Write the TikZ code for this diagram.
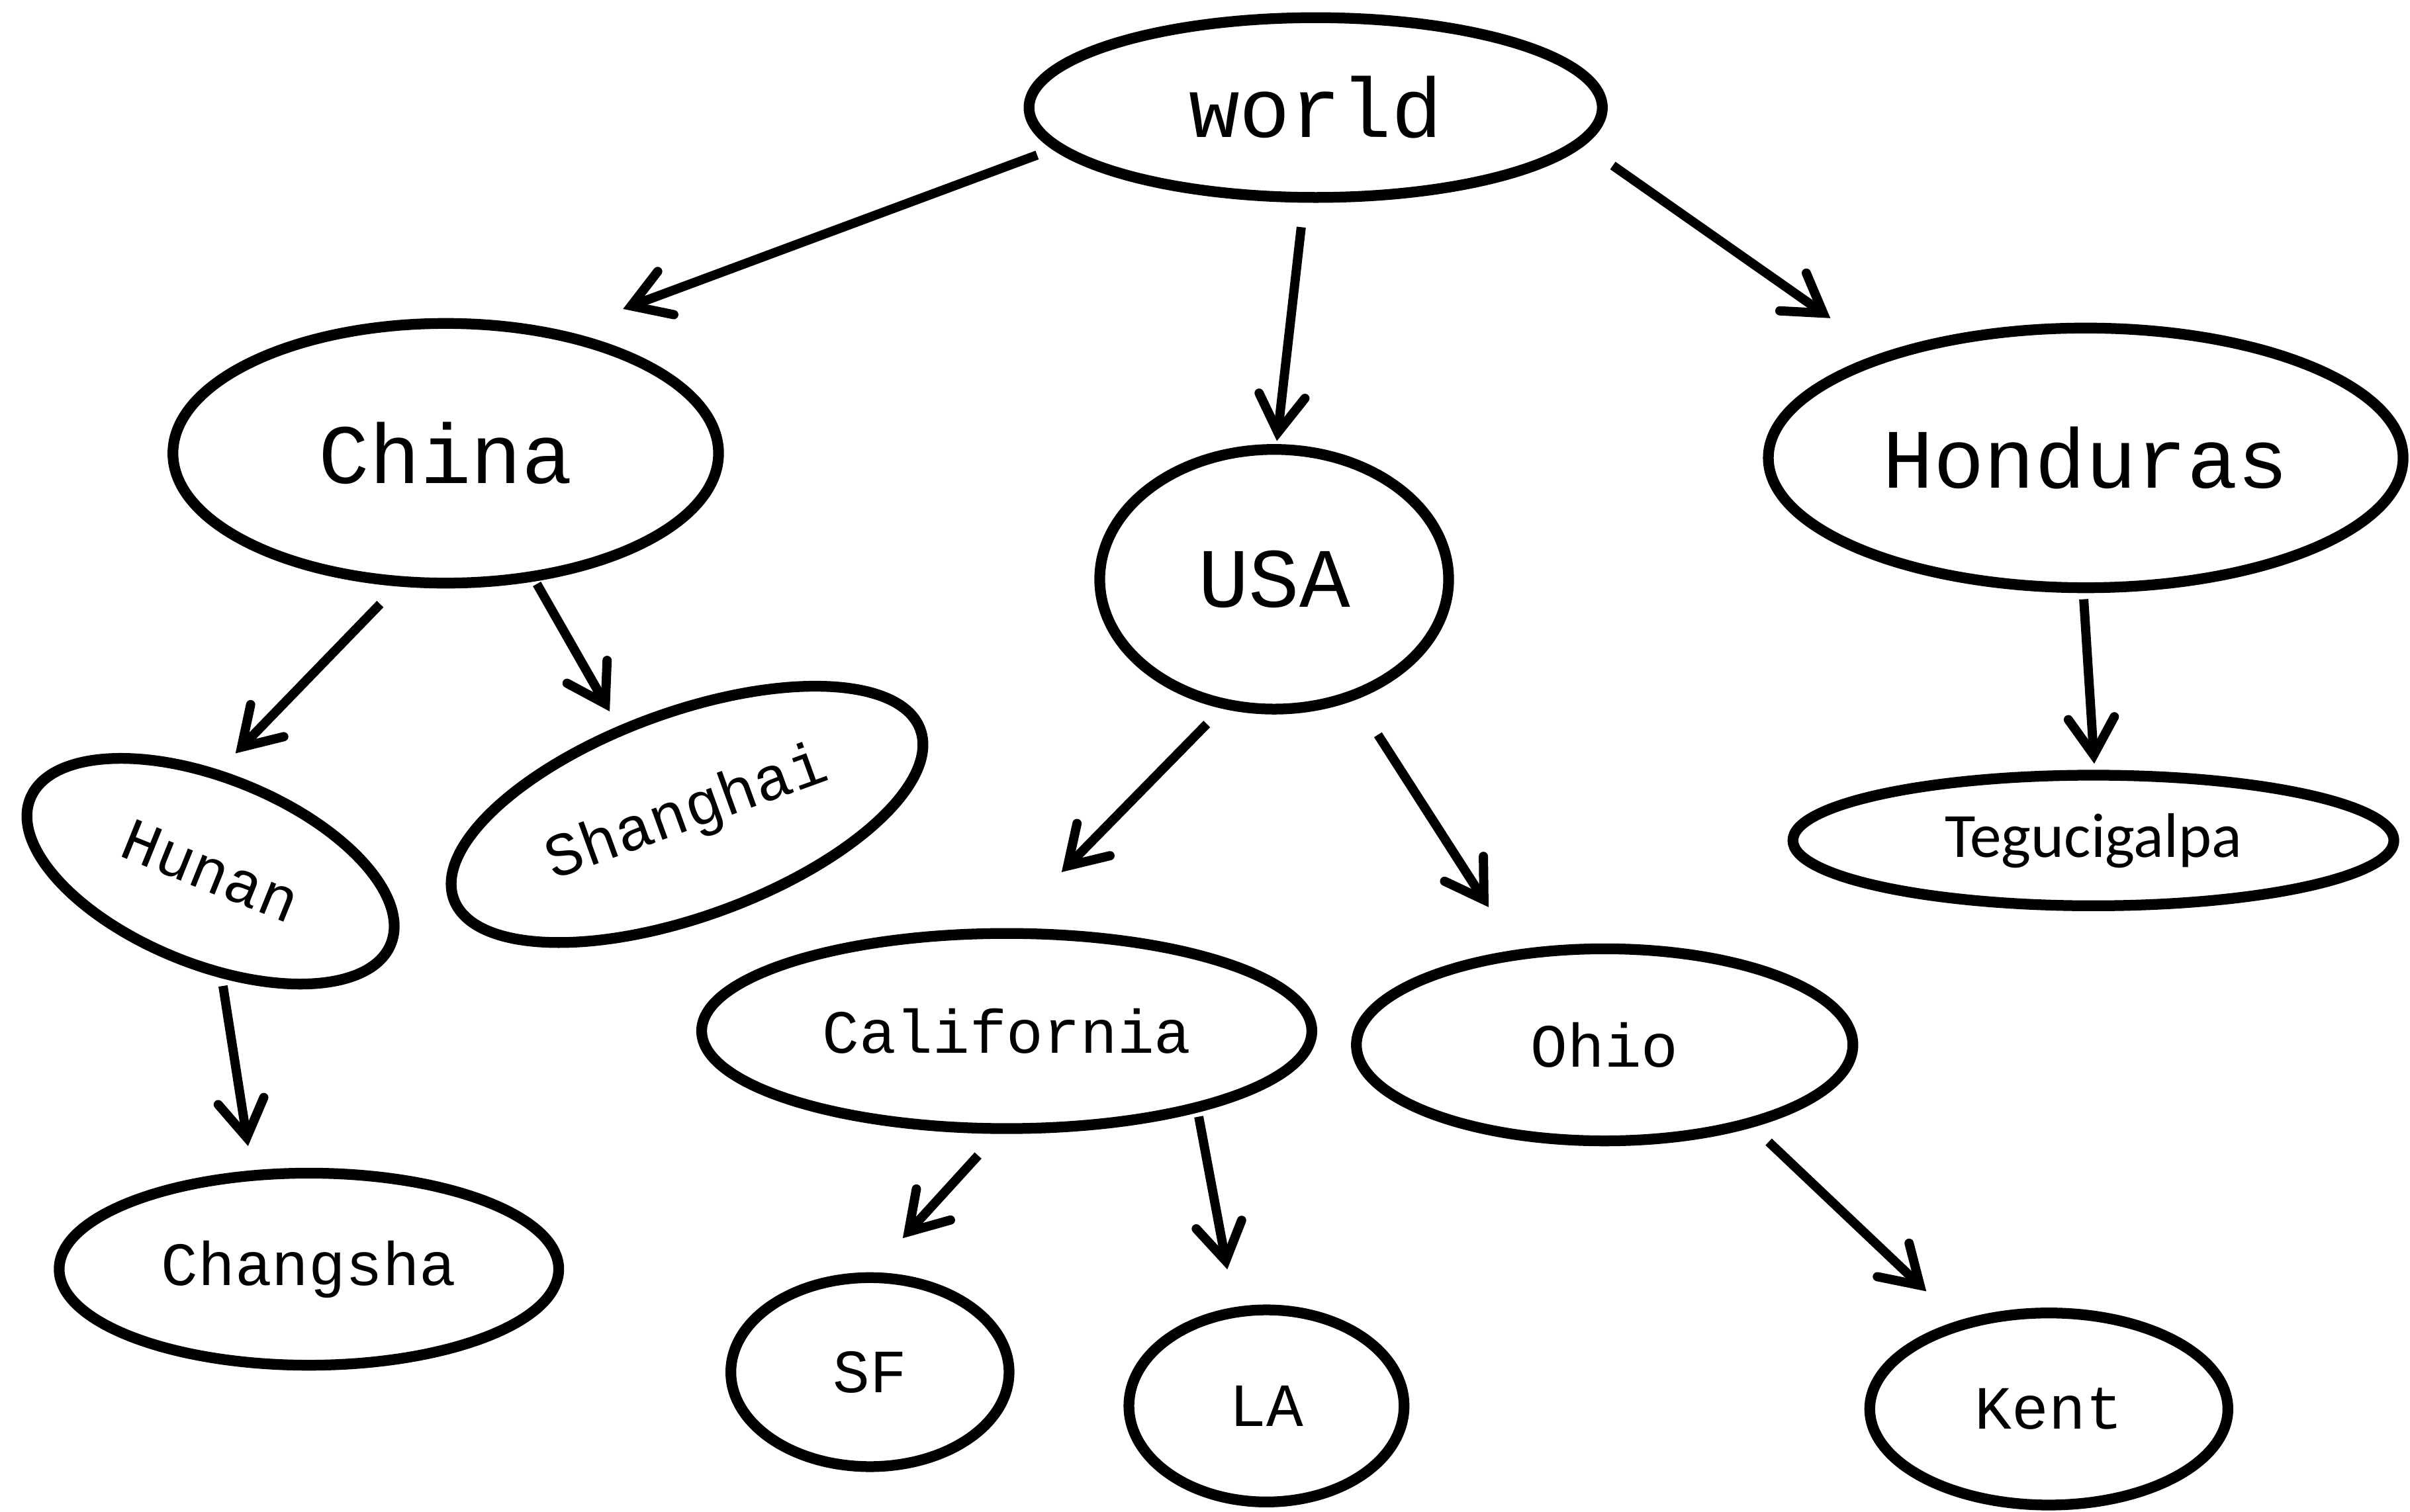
\documentclass[tikz,border=0pt]{standalone}
\usepackage{fontspec}
\setmonofont{Liberation Mono}
\newfontfamily\tegfont{Carlito}
\usetikzlibrary{shapes.geometric,arrows.meta}

\begin{document}
\begin{tikzpicture}[line cap=round,line join=round,x=1pt,y=-1pt,
    ell/.style={draw,ellipse,line width=7pt,inner sep=0pt},
    big/.style={font=\fontsize{55}{60}\selectfont\ttfamily},
    small/.style={font=\fontsize{40}{44}\selectfont\ttfamily},
    arr/.style={-{Straight Barb[length=24pt,width=30pt,line cap=round]},line cap=butt,line width=6pt}]

    \useasboundingbox (0,0) rectangle (1568,984);

    % top level
    \node[ell,big,minimum width=373pt,minimum height=117pt] (world) at (856,70) {world};
    \node[ell,big,minimum width=355pt,minimum height=169pt] (China) at (290,295) {China};
    \node[ell,big,minimum width=227pt,minimum height=169pt] (USA) at (829,377) {USA};
    \node[ell,big,minimum width=413pt,minimum height=169pt] (Honduras) at (1357,298) {Honduras};

    % second level
    \node[ell,small,minimum width=253pt,minimum height=121pt,rotate=-22] (Hunan) at (137,567) {Hunan};
    \node[ell,small,minimum width=323pt,minimum height=133pt,rotate=20] (Shanghai) at (447,530) {Shanghai};
    \node[ell,small,minimum width=397pt,minimum height=127pt] (California) at (655,671) {California};
    \node[ell,small,minimum width=323pt,minimum height=125pt] (Ohio) at (1044,680) {Ohio};
    \node[ell,font=\fontsize{41}{45}\selectfont\tegfont,minimum width=391pt,minimum height=85pt] (Tegucigalpa) at (1362,547) {Tegucigalpa};

    % third level
    \node[ell,small,minimum width=325pt,minimum height=125pt] (Changsha) at (201,826) {Changsha};
    \node[ell,small,minimum width=181pt,minimum height=123pt] (SF) at (566,893) {SF};
    \node[ell,small,minimum width=179pt,minimum height=125pt] (LA) at (824,915) {LA};
    \node[ell,small,minimum width=233pt,minimum height=125pt] (Kent) at (1333,917) {Kent};

    % arrows
    \draw[arr,shorten <=11pt,shorten >=41pt] (world.189.4) -- (China.46.7);
    \draw[arr,shorten <=16pt,shorten >=2pt] (world.263) -- (USA.89);
    \draw[arr,shorten <=23pt,shorten >=40pt] (world.-8) -- (Honduras.153);
    \draw[arr,shorten <=16pt,shorten >=15pt] (China.250.9) -- (Hunan.107.5);
    \draw[arr,shorten <=2pt,shorten >=11pt] (China.-55) -- (Shanghai.108);
    \draw[arr,shorten <=14pt,shorten >=51pt] (USA.248.4) -- (California.90.5);
    \draw[arr,shorten <=27pt,shorten >=33pt] (USA.-56) -- (Ohio.133);
    \draw[arr,shorten <=4pt,shorten >=4pt] (Honduras.269) -- (Tegucigalpa.89);
    \draw[arr,shorten <=5pt,shorten >=16pt] (Hunan.-62) -- (Changsha.120);
    \draw[arr,shorten <=19pt,shorten >=30pt] (California.265.6) -- (SF.89.5);
    \draw[arr,shorten <=3pt,shorten >=25pt] (California.-23) -- (LA.108.5);
    \draw[arr,shorten <=14pt,shorten >=28pt] (Ohio.-29) -- (Kent.136);
\end{tikzpicture}
\end{document}
